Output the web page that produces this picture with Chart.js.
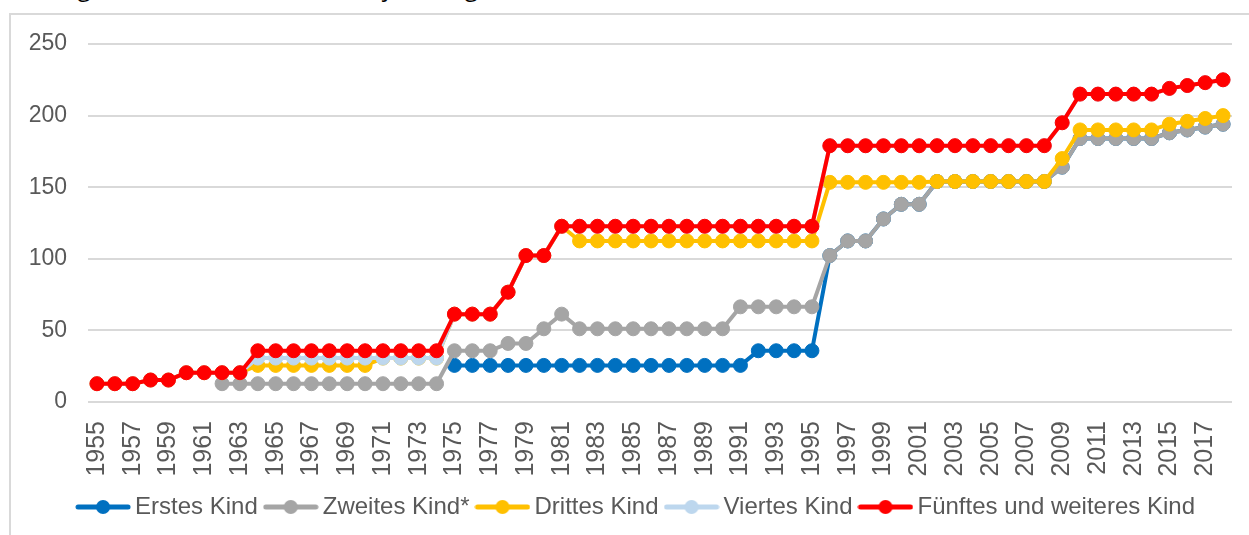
<!DOCTYPE html>
<html>
<head>
<meta charset="utf-8">
<script src="https://cdn.jsdelivr.net/npm/chart.js@4.4.1/dist/chart.umd.min.js"></script>
<style>
  html, body { margin: 0; padding: 0; background: #fff; overflow: hidden; width: 1249px; height: 535px; }
  .title { position: absolute; left: 4px; top: -30px; font-family: "Open Sans"; font-size: 24px; line-height: 34px; color: #000; white-space: nowrap; }
  .frame { position: absolute; left: 9px; top: 13px; width: 1300px; height: 600px; border: 2px solid #d9d9d9; }
  #chart { position: absolute; left: 11px; top: 15px; }
</style>
</head>
<body>
<div class="title">Kindergeld in Euro, 1955 bis 2018 jeweils geltende Sätze</div>
<div class="frame"></div>
<canvas id="chart" width="1238" height="514"></canvas>
<script>
/* data */
const years = [
  "1955", "1956", "1957", "1958", "1959", "1960", "1961", "1962", "1963", "1964",
  "1965", "1966", "1967", "1968", "1969", "1970", "1971", "1972", "1973", "1974",
  "1975", "1976", "1977", "1978", "1979", "1980", "1981", "1982", "1983", "1984",
  "1985", "1986", "1987", "1988", "1989", "1990", "1991", "1992", "1993", "1994",
  "1995", "1996", "1997", "1998", "1999", "2000", "2001", "2002", "2003", "2004",
  "2005", "2006", "2007", "2008", "2009", "2010", "2011", "2012", "2013", "2014",
  "2015", "2016", "2017", "2018",
];

const erstesKind = [
  null, null, null, null, null, null, null, null, null, null,
  null, null, null, null, null, null, null, null, null, null,
  25.56, 25.56, 25.56, 25.56, 25.56, 25.56, 25.56, 25.56, 25.56, 25.56,
  25.56, 25.56, 25.56, 25.56, 25.56, 25.56, 25.56, 35.79, 35.79, 35.79,
  35.79, 102.26, 112.48, 112.48, 127.82, 138.05, 138.05, 154, 154, 154,
  154, 154, 154, 154, 164, 184, 184, 184, 184, 184,
  188, 190, 192, 194,
];

const zweitesKind = [
  null, null, null, null, null, null, null, 12.78, 12.78, 12.78,
  12.78, 12.78, 12.78, 12.78, 12.78, 12.78, 12.78, 12.78, 12.78, 12.78,
  35.79, 35.79, 35.79, 40.9, 40.9, 51.13, 61.36, 51.13, 51.13, 51.13,
  51.13, 51.13, 51.13, 51.13, 51.13, 51.13, 66.47, 66.47, 66.47, 66.47,
  66.47, 102.26, 112.48, 112.48, 127.82, 138.05, 138.05, 154, 154, 154,
  154, 154, 154, 154, 164, 184, 184, 184, 184, 184,
  188, 190, 192, 194,
];

const drittesKind = [
  12.78, 12.78, 12.78, 15.34, 15.34, 20.45, 20.45, 20.45, 20.45, 25.56,
  25.56, 25.56, 25.56, 25.56, 25.56, 25.56, 30.68, 30.68, 30.68, 30.68,
  61.36, 61.36, 61.36, 76.69, 102.26, 102.26, 122.71, 112.48, 112.48, 112.48,
  112.48, 112.48, 112.48, 112.48, 112.48, 112.48, 112.48, 112.48, 112.48, 112.48,
  112.48, 153.39, 153.39, 153.39, 153.39, 153.39, 153.39, 154, 154, 154,
  154, 154, 154, 154, 170, 190, 190, 190, 190, 190,
  194, 196, 198, 200,
];

const viertesKind = [
  12.78, 12.78, 12.78, 15.34, 15.34, 20.45, 20.45, 20.45, 20.45, 30.68,
  30.68, 30.68, 30.68, 30.68, 30.68, 30.68, 30.68, 30.68, 30.68, 30.68,
  61.36, 61.36, 61.36, 76.69, 102.26, 102.26, 122.71, 122.71, 122.71, 122.71,
  122.71, 122.71, 122.71, 122.71, 122.71, 122.71, 122.71, 122.71, 122.71, 122.71,
  122.71, 178.95, 178.95, 178.95, 178.95, 178.95, 178.95, 179, 179, 179,
  179, 179, 179, 179, 195, 215, 215, 215, 215, 215,
  219, 221, 223, 225,
];

const fuenftesKind = [
  12.78, 12.78, 12.78, 15.34, 15.34, 20.45, 20.45, 20.45, 20.45, 35.79,
  35.79, 35.79, 35.79, 35.79, 35.79, 35.79, 35.79, 35.79, 35.79, 35.79,
  61.36, 61.36, 61.36, 76.69, 102.26, 102.26, 122.71, 122.71, 122.71, 122.71,
  122.71, 122.71, 122.71, 122.71, 122.71, 122.71, 122.71, 122.71, 122.71, 122.71,
  122.71, 178.95, 178.95, 178.95, 178.95, 178.95, 178.95, 179, 179, 179,
  179, 179, 179, 179, 195, 215, 215, 215, 215, 215,
  219, 221, 223, 225,
];

const seriesNames = ["Erstes Kind", "Zweites Kind*", "Drittes Kind", "Viertes Kind", "Fünftes und weiteres Kind"];
const seriesColors = ["#0070c0", "#a5a5a5", "#ffc000", "#bdd7ee", "#ff0000"];

/* legend icons: line with a dot, like the office legend */
function makeIcon(color) {
  let c = document.createElement("canvas");
  c.width = 56;
  c.height = 16;
  let g = c.getContext("2d");
  g.strokeStyle = color;
  g.lineWidth = 5;
  g.lineCap = "round";
  g.beginPath();
  g.moveTo(3, 8);
  g.lineTo(53, 8);
  g.stroke();
  g.fillStyle = color;
  g.beginPath();
  g.arc(28, 8, 7, 0, Math.PI * 2);
  g.fill();
  return c;
}
const icons = seriesColors.map(makeIcon);

const textColor = "#595959";
const fontFamily = "'Liberation Sans', Arial, sans-serif";

function makeDataset(i, values) {
  return {
    label: seriesNames[i],
    data: values,
    borderColor: seriesColors[i],
    backgroundColor: seriesColors[i],
    pointBackgroundColor: seriesColors[i],
    pointBorderColor: seriesColors[i],
    borderWidth: 4,
    pointRadius: 7,
    pointBorderWidth: 1,
    borderJoinStyle: "round",
    borderCapStyle: "round",
    tension: 0,
    fill: false,
    order: 5 - i, // later series drawn on top
  };
}

let ctx = document.getElementById("chart");

let lineChart = new Chart(ctx, {
  type: "line",
  data: {
    labels: years,
    datasets: [
      makeDataset(0, erstesKind),
      makeDataset(1, zweitesKind),
      makeDataset(2, drittesKind),
      makeDataset(3, viertesKind),
      makeDataset(4, fuenftesKind),
    ],
  },
  options: {
    responsive: false,
    animation: false,
    layout: { padding: { top: 29, right: 0, left: 18, bottom: 0 } },
    plugins: {
      tooltip: { enabled: false },
      legend: {
        position: "bottom",
        labels: {
          color: textColor,
          font: { family: fontFamily, size: 24 },
          usePointStyle: true,
          pointStyleWidth: 40,
          padding: 13,
          sort: (a, b) => a.datasetIndex - b.datasetIndex,
          generateLabels: (chart) => {
            let items = Chart.defaults.plugins.legend.labels.generateLabels(chart);
            items.forEach((item) => {
              item.pointStyle = icons[item.datasetIndex];
            });
            return items;
          },
        },
      },
    },
    scales: {
      x: {
        offset: true,
        grid: { display: false, drawTicks: false },
        border: { display: false },
        ticks: {
          autoSkip: false,
          minRotation: 90,
          maxRotation: 90,
          padding: 19,
          color: textColor,
          font: { family: fontFamily, size: 25 },
          callback: function (value, index) {
            return index % 2 === 0 ? this.getLabelForValue(value) : "";
          },
        },
        afterFit: (scale) => {
          scale.height = 80;
          scale.paddingLeft = 0;
          scale.paddingRight = 17;
        },
      },
      y: {
        min: 0,
        max: 250,
        border: { display: false },
        grid: { color: "#d9d9d9", lineWidth: 2, drawTicks: false },
        ticks: {
          stepSize: 50,
          padding: 21,
          color: textColor,
          font: { family: fontFamily, size: 23 },
        },
        afterFit: (scale) => {
          scale.width = 59;
          scale.paddingTop = 0;
          scale.paddingBottom = 0;
        },
      },
    },
  },
});
</script>
</body>
</html>
